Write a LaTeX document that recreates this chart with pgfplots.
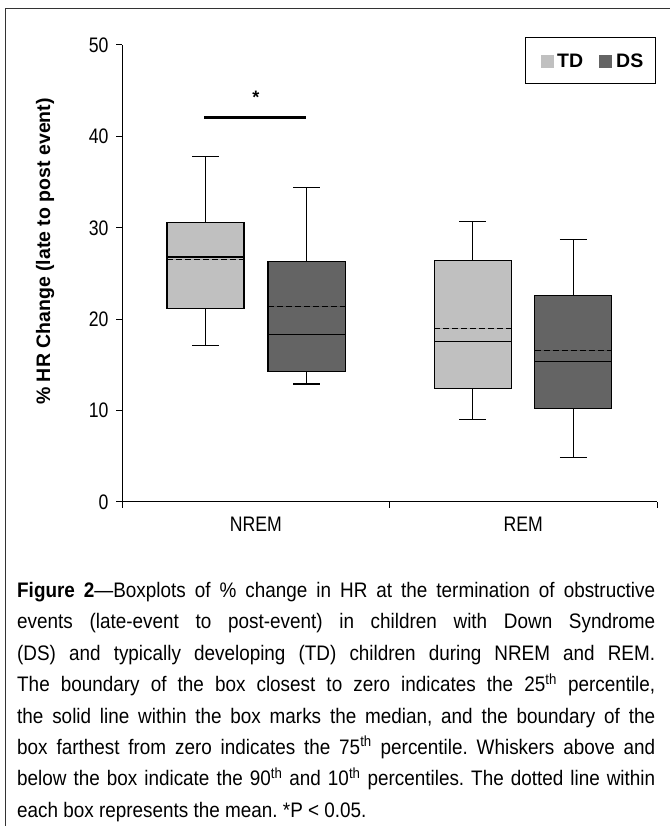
\documentclass[border=0pt]{standalone}
\usepackage{fontspec}
\setmainfont{Liberation Sans}
\newfontfamily\ticknarrow[FakeStretch=0.84]{Liberation Sans}
\newfontfamily\capnarrow[FakeStretch=0.9]{Liberation Sans}
\usepackage{pgfplots}
\pgfplotsset{compat=1.18}
\usepgfplotslibrary{statistics}
\definecolor{tdgray}{RGB}{192,192,192}
\definecolor{dsgray}{RGB}{100,100,100}

\pgfplotsset{
  hrbox/.style={
    solid, draw=black, line width=1.2pt, mark=none,
    boxplot/draw direction=y,
    boxplot/box extend=0.288,
    boxplot/whisker extend=0.1,
    boxplot/draw/average/.code={%
      \draw[black, line width=1.2pt, dash pattern=on 6pt off 3pt]
        (boxplot box cs:\pgfplotsboxplotvalue{average},0) --
        (boxplot box cs:\pgfplotsboxplotvalue{average},1);
    },
  },
}

\begin{document}
\begin{tikzpicture}[x=1pt,y=1pt]
\useasboundingbox (0,0) rectangle (670,826);
% outer frame (left and top only, the rest is cut off)
\draw[line width=1pt, black!80] (5,0) -- (5,817) -- (670,817);

\begin{axis}[
    at={(122pt,324pt)}, anchor=south west,
    scale only axis,
    width=535pt, height=457pt,
    xmin=0, xmax=2,
    ymin=0, ymax=50,
    axis lines*=left,
    axis line style={black, line width=1pt, -},
    xtick={0,1,2}, xticklabels={},
    extra x ticks={0.5,1.5},
    extra x tick labels={NREM,REM},
    extra x tick style={major tick length=0pt},
    ytick={0,10,20,30,40,50},
    tick align=outside,
    major tick length=6pt,
    tick style={black, line width=1pt},
    tick label style={font=\ticknarrow\fontsize{21}{21}\selectfont},
    /pgf/number format/assume math mode=true,
    xticklabel style={yshift=-12pt},
    yticklabel style={xshift=-4pt},
    clip=false,
]
  % NREM, TD
  \addplot[hrbox, fill=tdgray, boxplot prepared={
      draw position=0.312,
      lower whisker=17.1, lower quartile=21.2, median=26.8,
      upper quartile=30.6, upper whisker=37.8, average=26.5}]
    coordinates {};
  % NREM, DS
  \addplot[hrbox, fill=dsgray, boxplot prepared={
      draw position=0.690,
      lower whisker=12.9, lower quartile=14.3, median=18.3,
      upper quartile=26.3, upper whisker=34.4, average=21.4}]
    coordinates {};
  % REM, TD
  \addplot[hrbox, fill=tdgray, boxplot prepared={
      draw position=1.311,
      lower whisker=9.0, lower quartile=12.4, median=17.6,
      upper quartile=26.4, upper whisker=30.7, average=19.0}]
    coordinates {};
  % REM, DS
  \addplot[hrbox, fill=dsgray, boxplot prepared={
      draw position=1.687,
      lower whisker=4.9, lower quartile=10.2, median=15.4,
      upper quartile=22.6, upper whisker=28.7, average=16.6}]
    coordinates {};

  % significance bar
  \addplot[black, line width=3pt, mark=none] coordinates {(0.307,42.1) (0.688,42.1)};
  \node[font=\bfseries\fontsize{18}{18}\selectfont] at (axis cs:0.5,44.3) {*};
\end{axis}

% y label
\node[rotate=90, font=\bfseries\fontsize{19.5}{19.5}\selectfont] at (45,574.5)
  {\% HR Change (late to post event)};

% legend
\draw[black, line width=1pt] (525,742) rectangle (655,788);
\fill[tdgray] (541,758) rectangle (554,771);
\fill[dsgray] (599,758) rectangle (612,771);
\node[anchor=base west, inner sep=0pt, font=\bfseries\fontsize{19.5}{19.5}\selectfont] at (557,758) {TD};
\node[anchor=base west, inner sep=0pt, font=\bfseries\fontsize{19.5}{19.5}\selectfont] at (616,758) {DS};

% caption
\node[anchor=north west, inner sep=0pt, text width=638pt, align=justify,
      font=\capnarrow\fontsize{21}{31.4}\selectfont\frenchspacing] at (17,244) {%
\textbf{Figure 2}—Boxplots of \% change in HR at the termination of obstructive\linebreak
events (late-event to post-event) in children with Down Syndrome\linebreak
(DS) and typically developing (TD) children during NREM and REM.\linebreak
The boundary of the box closest to zero indicates the 25\textsuperscript{th} percentile,\linebreak
the solid line within the box marks the median, and the boundary of the\linebreak
box farthest from zero indicates the 75\textsuperscript{th} percentile. Whiskers above and\linebreak
below the box indicate the 90\textsuperscript{th} and 10\textsuperscript{th} percentiles. The dotted line within\linebreak
each box represents the mean. *P < 0.05.};
\end{tikzpicture}
\end{document}
